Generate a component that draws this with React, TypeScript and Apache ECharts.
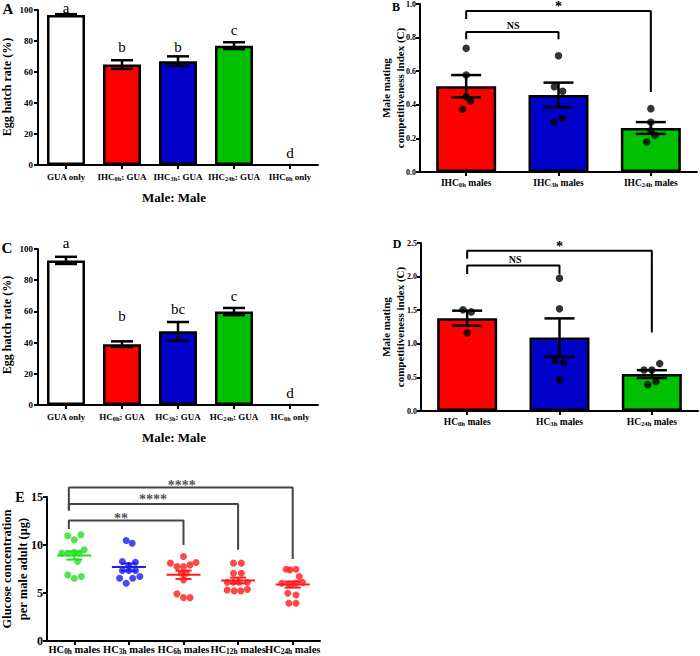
import React, { useEffect, useRef } from 'react';
import * as echarts from 'echarts';

const SERIF = '"Liberation Serif", "Times New Roman", serif';

// ---------- Panel A ----------
const catsA = ['GUA only', 'IHC0h: GUA', 'IHC3h: GUA', 'IHC24h: GUA', 'IHC0h only'];
const hatchA = [96.8, 64.8, 67.0, 77.0, null];
const hatchSemA = [0.5, 2.8, 3.1, 2.2, null];
const lettersA = ['a', 'b', 'b', 'c', 'd'];
const letterYA = [101.5, 76, 76, 87, 7.5];

// ---------- Panel B ----------
const catsB = ['IHC0h males', 'IHC3h males', 'IHC24h males'];
const meanB = [0.511, 0.459, 0.262];
const semB = [0.066, 0.073, 0.035];
const pointsB = [
  [0.736, 0.577, 0.448, 0.423, 0.373],
  [0.692, 0.508, 0.48, 0.298, 0.317],
  [0.377, 0.296, 0.246, 0.218, 0.179],
];
const jitterB = [
  [0, 0, 0, 0.045, -0.04],
  [0, -0.045, 0.045, -0.045, 0.045],
  [0, 0, 0, 0.045, -0.045],
];
// [xLeft, yLeftEnd, xRight, yRightEnd, yTop]
const bracketsB = [
  [0, 0.79, 1, 0.79, 0.833],
  [0, 0.91, 2, 0.476, 0.958],
];
const annotTextB = ['NS', '*'];
const annotXB = [0.51, 1.0];
const annotYB = [0.875, 0.985];

// ---------- Panel C ----------
const catsC = ['GUA only', 'HC0h: GUA', 'HC3h: GUA', 'HC24h: GUA', 'HC0h only'];
const hatchC = [92.7, 39.0, 47.2, 59.9, null];
const hatchSemC = [2.3, 1.8, 6.0, 2.3, null];
const lettersC = ['a', 'b', 'bc', 'c', 'd'];
const letterYC = [103.8, 57.2, 61.7, 70, 7.9];

// ---------- Panel D ----------
const catsD = ['HC0h males', 'HC3h males', 'HC24h males'];
const meanD = [1.381, 1.092, 0.549];
const semD = [0.112, 0.286, 0.058];
const pointsD = [
  [1.505, 1.475, 1.162],
  [1.977, 1.52, 0.76, 0.72, 0.462],
  [0.611, 0.611, 0.705, 0.437, 0.392],
];
const jitterD = [
  [-0.045, 0.045, 0],
  [0, 0, -0.045, 0.045, 0],
  [-0.085, 0, 0.085, 0.045, -0.045],
];
const bracketsD = [
  [0, 2.04, 1, 2.04, 2.165],
  [0, 2.265, 2, 1.167, 2.385],
];
const annotTextD = ['NS', '*'];
const annotXD = [0.52, 1.0];
const annotYD = [2.25, 2.45];

// ---------- Panel E ----------
const catsE = ['HC0h males', 'HC3h males', 'HC6h males', 'HC12h males', 'HC24h males'];
const glucoseE = [
  [10.96, 10.54, 11.06, 9.5, 9.15, 9.15, 9.25, 9.15, 8.28, 6.89, 6.54, 6.71],
  [10.47, 10.19, 8.28, 8.21, 7.86, 7.34, 7.34, 7.34, 6.54, 6.54, 6.71, 6.02],
  [8.8, 8.11, 7.76, 7.76, 7.93, 8.17, 7.07, 7.07, 6.37, 4.91, 4.52, 4.52],
  [8.11, 8.11, 7.05, 7.05, 6.12, 6.12, 6.12, 6.12, 5.32, 5.22, 5.22, 5.38],
  [7.48, 7.41, 7.48, 6.71, 6.02, 5.92, 6.02, 6.12, 4.98, 4.8, 3.93, 3.93],
];
const jitterE = [
  [-0.12, 0, 0.12, 0.18, -0.23, -0.12, 0, 0.09, 0.06, -0.12, 0, 0.13],
  [-0.05, 0.06, -0.12, 0.12, 0, -0.12, 0, 0.12, -0.17, 0.07, 0.2, -0.05],
  [0, -0.24, -0.12, 0, 0.12, 0.23, -0.04, 0.05, 0, -0.12, 0, 0.12],
  [-0.085, 0.06, -0.085, 0.06, -0.2, -0.085, 0.02, 0.17, -0.2, -0.07, 0.05, 0.17],
  [-0.12, -0.05, 0.06, 0.12, -0.2, -0.07, 0.06, 0.18, -0.09, 0.06, -0.07, 0.06],
];
const meanE = [8.9, 7.7, 6.9, 6.3, 5.88];
const semE = [0.42, 0.38, 0.43, 0.3, 0.32];
const bracketsE = [
  [-0.1, 11.66, 2, 10.0, 12.56],
  [-0.1, 13.6, 3, 9.5, 14.27],
  [-0.1, 13.6, 4, 8.53, 16.0],
];
const annotTextE = ['**', '****', '****'];
const annotXE = [0.855, 1.44, 1.97];
const annotYE = [12.76, 14.77, 16.23];

// ---------- styles ----------
const BAR_COLORS5 = ['#ffffff', '#ff0000', '#0000c8', '#00c000', '#ffffff'];
const BAR_COLORS3 = ['#ff0000', '#0000c8', '#00c000'];
const DOT_COLORS_E = ['#20e020', '#1c1cf0', '#ff1c1c', '#ff1c1c', '#ff1c1c'];

function richLabel(s: string) {
  const m = s.match(/^(.*?HC)(\d+h)(.*)$/);
  if (!m) return '{n|' + s + '}';
  return '{n|' + m[1] + '}{s|' + m[2] + '}' + (m[3] ? '{n|' + m[3].replace(/ /g, '\u00a0') + '}' : '');
}

function catAxis(grid: number, cats: string[], fs: number, margin: number) {
  return {
    type: 'category',
    gridIndex: grid,
    data: cats,
    boundaryGap: true,
    axisLine: { show: true, onZero: false, lineStyle: { color: '#000', width: 2 } },
    axisTick: { show: true, alignWithLabel: true, length: 4, lineStyle: { color: '#000', width: 2 } },
    splitLine: { show: false },
    axisLabel: {
      interval: 0,
      margin,
      formatter: (v: string) => richLabel(v),
      rich: {
        n: { fontFamily: SERIF, fontWeight: 'bold', fontSize: fs, color: '#000', verticalAlign: 'bottom' },
        s: { fontFamily: SERIF, fontWeight: 'bold', fontSize: fs * 0.7, color: '#000', verticalAlign: 'bottom' },
      },
    },
  };
}

function valX(grid: number, n: number) {
  return { type: 'value', gridIndex: grid, min: -0.5, max: n - 0.5, show: false };
}

function yAx(grid: number, min: number, max: number, interval: number, dec: number, fs: number, margin: number) {
  return {
    type: 'value',
    gridIndex: grid,
    min,
    max,
    interval,
    axisLine: { show: true, onZero: false, lineStyle: { color: '#000', width: 2 } },
    axisTick: { show: true, length: 4, lineStyle: { color: '#000', width: 2 } },
    splitLine: { show: false },
    axisLabel: {
      margin,
      color: '#000',
      fontFamily: SERIF,
      fontWeight: 'bold',
      fontSize: fs,
      formatter: (v: number) => v.toFixed(dec),
    },
  };
}

function barSeries(xi: number, yi: number, vals: (number | null)[], colors: string[], w: number) {
  return {
    type: 'bar',
    xAxisIndex: xi,
    yAxisIndex: yi,
    barWidth: w,
    z: 2,
    silent: true,
    data: vals.map((v, i) =>
      v == null ? '-' : { value: v, itemStyle: { color: colors[i], borderColor: '#000', borderWidth: 2.5 } }
    ),
  };
}

function errSeries(
  xi: number,
  yi: number,
  means: (number | null)[],
  sems: (number | null)[],
  capHalf: number,
  meanHalf: number,
  colors: string[] | null,
  lw: number
) {
  const data: number[][] = [];
  const cols: string[] = [];
  means.forEach((m, i) => {
    if (m == null) return;
    const s = sems[i] as number;
    data.push([i, m - s, m + s, m]);
    cols.push(colors ? colors[i] : '#000');
  });
  return {
    type: 'custom',
    xAxisIndex: xi,
    yAxisIndex: yi,
    z: 3,
    silent: true,
    clip: false,
    data,
    renderItem: (params: any, api: any) => {
      const x = api.value(0);
      const pt = api.coord([x, api.value(2)]);
      const pb = api.coord([x, api.value(1)]);
      const style = { stroke: cols[params.dataIndex], lineWidth: lw };
      const children: any[] = [
        { type: 'line', shape: { x1: pt[0], y1: pt[1], x2: pb[0], y2: pb[1] }, style },
        { type: 'line', shape: { x1: pt[0] - capHalf, y1: pt[1], x2: pt[0] + capHalf, y2: pt[1] }, style },
        { type: 'line', shape: { x1: pb[0] - capHalf, y1: pb[1], x2: pb[0] + capHalf, y2: pb[1] }, style },
      ];
      if (meanHalf > 0) {
        const pm = api.coord([x, api.value(3)]);
        children.push({ type: 'line', shape: { x1: pm[0] - meanHalf, y1: pm[1], x2: pm[0] + meanHalf, y2: pm[1] }, style });
      }
      return { type: 'group', children };
    },
  };
}

function pointSeries(xi: number, yi: number, pts: number[][], jit: number[][], colors: string[], size: number) {
  const data: any[] = [];
  pts.forEach((grp, g) =>
    grp.forEach((v, k) => data.push({ value: [g + jit[g][k], v], itemStyle: { color: colors[g] } }))
  );
  return {
    type: 'scatter',
    xAxisIndex: xi,
    yAxisIndex: yi,
    symbol: 'circle',
    symbolSize: size,
    z: 4,
    silent: true,
    clip: false,
    data,
  };
}

function bracketSeries(xi: number, yi: number, brackets: number[][], color: string) {
  return brackets.map((b) => ({
    type: 'line',
    xAxisIndex: xi,
    yAxisIndex: yi,
    symbol: 'none',
    silent: true,
    clip: false,
    z: 5,
    lineStyle: { color, width: 2 },
    data: [
      [b[0], b[1]],
      [b[0], b[4]],
      [b[2], b[4]],
      [b[2], b[3]],
    ],
  }));
}

function textSeries(xi: number, yi: number, xs: number[], ys: number[], texts: string[], font: string, color: string) {
  return {
    type: 'custom',
    xAxisIndex: xi,
    yAxisIndex: yi,
    silent: true,
    clip: false,
    z: 6,
    data: xs.map((x, i) => [x, ys[i]]),
    renderItem: (params: any, api: any) => {
      const p = api.coord([api.value(0), api.value(1)]);
      return {
        type: 'text',
        x: p[0],
        y: p[1],
        style: { text: texts[params.dataIndex], font, fill: color, align: 'center', verticalAlign: 'middle' },
      };
    },
  };
}

function gtext(x: number, y: number, text: string, font: string, rot = 0, lineHeight?: number) {
  return {
    type: 'text',
    x,
    y,
    rotation: rot,
    silent: true,
    style: { text, font, fill: '#000', align: 'center', verticalAlign: 'middle', lineHeight },
  };
}

function buildOption() {
  const letterFont = '15px ' + SERIF;
  const starFont = 'bold 14px ' + SERIF;
  const nsFont = 'bold 10px ' + SERIF;
  return {
    animation: false,
    backgroundColor: '#ffffff',
    grid: [
      { left: 38, top: 10, width: 280, height: 155, outerBoundsMode: 'none', containLabel: false },
      { left: 420, top: 4, width: 277, height: 168, outerBoundsMode: 'none', containLabel: false },
      { left: 38, top: 249, width: 280, height: 156, outerBoundsMode: 'none', containLabel: false },
      { left: 421, top: 243, width: 277, height: 168, outerBoundsMode: 'none', containLabel: false },
      { left: 47, top: 497, width: 273, height: 144, outerBoundsMode: 'none', containLabel: false },
    ],
    xAxis: [
      catAxis(0, catsA, 9, 7),
      valX(0, catsA.length),
      catAxis(1, catsB, 9.5, 6),
      valX(1, catsB.length),
      catAxis(2, catsC, 9, 7),
      valX(2, catsC.length),
      catAxis(3, catsD, 9.5, 6),
      valX(3, catsD.length),
      catAxis(4, catsE, 10.5, 3),
      valX(4, catsE.length),
    ],
    yAxis: [
      yAx(0, 0, 100, 20, 0, 9, 5),
      yAx(1, 0, 1, 0.2, 1, 8, 4),
      yAx(2, 0, 100, 20, 0, 9, 5),
      yAx(3, 0, 2.5, 0.5, 1, 8, 4),
      yAx(4, 0, 15, 5, 0, 12, 4),
    ],
    series: [
      // A
      barSeries(0, 0, hatchA, BAR_COLORS5, 38),
      errSeries(1, 0, hatchA, hatchSemA, 11, 0, null, 2.5),
      textSeries(1, 0, lettersA.map((_, i) => i), letterYA, lettersA, letterFont, '#000'),
      // B
      barSeries(2, 1, meanB, BAR_COLORS3, 60),
      errSeries(3, 1, meanB, semB, 15, 0, null, 2.5),
      pointSeries(3, 1, pointsB, jitterB, ['#000', '#000', '#000'], 7.5),
      ...bracketSeries(3, 1, bracketsB, '#000'),
      textSeries(3, 1, [annotXB[0]], [annotYB[0]], [annotTextB[0]], nsFont, '#000'),
      textSeries(3, 1, [annotXB[1]], [annotYB[1]], [annotTextB[1]], starFont, '#000'),
      // C
      barSeries(4, 2, hatchC, BAR_COLORS5, 38),
      errSeries(5, 2, hatchC, hatchSemC, 11, 0, null, 2.5),
      textSeries(5, 2, lettersC.map((_, i) => i), letterYC, lettersC, letterFont, '#000'),
      // D
      barSeries(6, 3, meanD, BAR_COLORS3, 60),
      errSeries(7, 3, meanD, semD, 15, 0, null, 2.5),
      pointSeries(7, 3, pointsD, jitterD, ['#000', '#000', '#000'], 7.5),
      ...bracketSeries(7, 3, bracketsD, '#000'),
      textSeries(7, 3, [annotXD[0]], [annotYD[0]], [annotTextD[0]], nsFont, '#000'),
      textSeries(7, 3, [annotXD[1]], [annotYD[1]], [annotTextD[1]], starFont, '#000'),
      // E
      pointSeries(9, 4, glucoseE, jitterE, DOT_COLORS_E, 7),
      errSeries(9, 4, meanE, semE, 8, 17, DOT_COLORS_E, 2),
      ...bracketSeries(9, 4, bracketsE, '#444'),
      textSeries(9, 4, annotXE, annotYE, annotTextE, starFont, '#555'),
    ],
    graphic: [
      gtext(8, 9, 'A', 'bold 15px ' + SERIF),
      gtext(396, 7, 'B', 'bold 12px ' + SERIF),
      gtext(7, 248, 'C', 'bold 15px ' + SERIF),
      gtext(397, 244, 'D', 'bold 12px ' + SERIF),
      gtext(20, 497, 'E', 'bold 14px ' + SERIF),
      gtext(7, 87, 'Egg hatch rate (%)', 'bold 12px ' + SERIF, Math.PI / 2),
      gtext(7, 325, 'Egg hatch rate (%)', 'bold 12px ' + SERIF, Math.PI / 2),
      gtext(393, 88, 'Male mating\ncompetitiveness index (C)', 'bold 11px ' + SERIF, Math.PI / 2, 14),
      gtext(393, 327, 'Male mating\ncompetitiveness index (C)', 'bold 11px ' + SERIF, Math.PI / 2, 14),
      gtext(15, 569, 'Glucose concentration\nper male adult (\u03bcg)', 'bold 12.5px ' + SERIF, Math.PI / 2, 16),
      gtext(174, 197, 'Male: Male', 'bold 13px ' + SERIF),
      gtext(174, 437, 'Male: Male', 'bold 13px ' + SERIF),
    ],
  };
}

export default function App() {
  const ref = useRef<HTMLDivElement>(null);
  useEffect(() => {
    if (!ref.current) return;
    const chart = echarts.init(ref.current, null, { renderer: 'svg' });
    chart.setOption(buildOption() as any);
    return () => chart.dispose();
  }, []);
  return (
    <div
      ref={ref}
      style={{ position: 'absolute', left: 0, top: 0, width: 700, height: 656, background: '#fff' }}
    />
  );
}
